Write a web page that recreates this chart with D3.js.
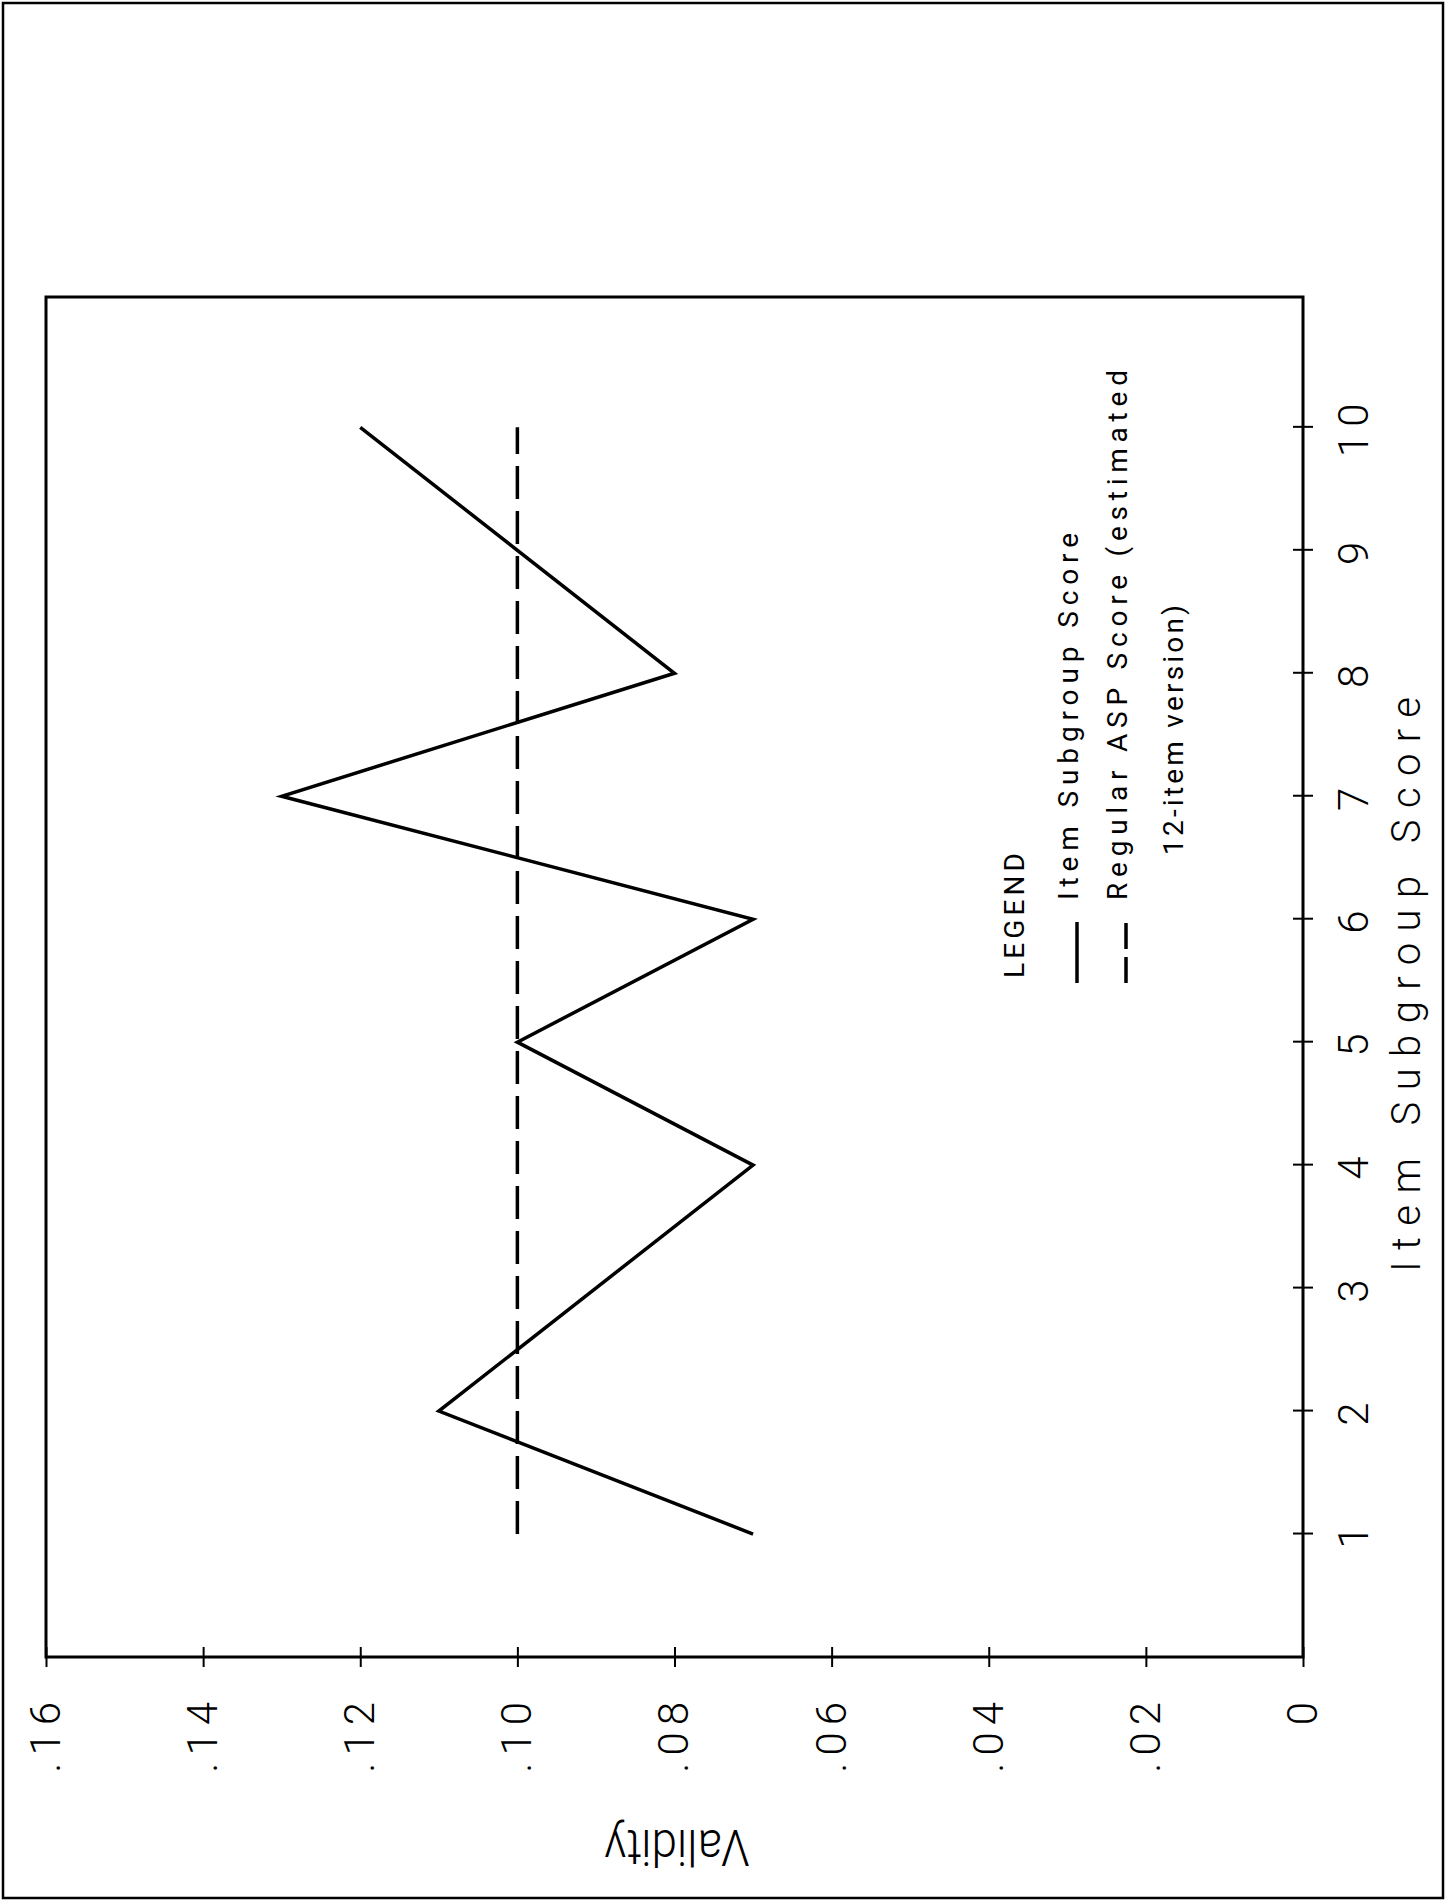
<!DOCTYPE html>
<html>
<head>
<meta charset="utf-8">
<script src="https://cdn.jsdelivr.net/npm/d3@7"></script>
<style>
  body { margin: 0; background: #fff; }
  svg { display: block; }
  text { font-family: Roboto, "DejaVu Sans", sans-serif; font-weight: 300; fill: #000; }
  .legend text { font-weight: 400; font-size: 28px; }
</style>
</head>
<body>
<div id="chart-area"></div>
<script>
// item subgroup scores (x) and validity (y)
const itemScores = [1, 2, 4, 5, 6, 7, 8, 10];
const itemValidity = [0.07, 0.11, 0.07, 0.10, 0.07, 0.13, 0.08, 0.12];

// regular ASP score, flat reference line
const aspScores = [1, 10];
const aspValidity = [0.10, 0.10];

const xTicks = [1, 2, 3, 4, 5, 6, 7, 8, 9, 10];
const xTickLabels = ['1', '2', '3', '4', '5', '6', '7', '8', '9', '10'];
const yTicks = [0, 0.02, 0.04, 0.06, 0.08, 0.10, 0.12, 0.14, 0.16];
const yTickLabels = ['0', '.02', '.04', '.06', '.08', '.10', '.12', '.14', '.16'];

const legendLabels = ['Item Subgroup Score', 'Regular ASP Score (estimated'];
const legendExtra = '12-item version)';

const pageW = 1455, pageH = 1902;
const W = 1360;   // plot length along item axis
const H = 1257;   // plot length along validity axis

let svg = d3.select('#chart-area').append('svg')
    .attr('width', pageW).attr('height', pageH);

// outer border of the page
svg.append('rect')
    .attr('x', 3).attr('y', 3)
    .attr('width', 1440).attr('height', 1895)
    .attr('fill', 'none').attr('stroke', '#000').attr('stroke-width', 2.5);

// the whole chart is drawn normally and turned a quarter turn
let g = svg.append('g').attr('transform', 'translate(46,1657) rotate(-90)');

let x = d3.scaleLinear().domain([0, 11.06]).range([0, W]);
let y = d3.scaleLinear().domain([0, 0.16]).range([H, 0]);

// frame
g.append('rect')
    .attr('x', 0).attr('y', 0).attr('width', W).attr('height', H)
    .attr('fill', 'none').attr('stroke', '#000').attr('stroke-width', 3);

let xAxis = g.append('g')
    .attr('transform', `translate(0,${H})`)
    .call(d3.axisBottom(x)
        .tickValues(xTicks)
        .tickFormat((d, i) => xTickLabels[i])
        .tickSize(10).tickPadding(25));

let yAxis = g.append('g')
    .call(d3.axisLeft(y)
        .tickValues(yTicks)
        .tickFormat((d, i) => yTickLabels[i])
        .tickSize(10).tickPadding(28));

[xAxis, yAxis].forEach((a) => {
    a.select('.domain').remove();
    a.attr('font-family', null).attr('font-size', null);
    a.selectAll('line').attr('stroke', '#000').attr('stroke-width', 2);
    a.selectAll('text')
        .style('font-size', '42px')
        .style('letter-spacing', '7px');
});
// ticks cross the frame line
xAxis.selectAll('line').attr('y1', -10);
yAxis.selectAll('line').attr('x1', 10);

// axis titles
g.append('text')
    .attr('x', 385).attr('y', 1374)
    .attr('textLength', 575).attr('lengthAdjust', 'spacing')
    .style('font-size', '40px')
    .text('Item Subgroup Score');

g.append('text')
    .attr('transform', 'translate(-173,631) rotate(-90)')
    .attr('text-anchor', 'middle')
    .attr('textLength', 145).attr('lengthAdjust', 'spacingAndGlyphs')
    .style('font-size', '50px')
    .text('Validity');

// series
let line = d3.line().x((d) => x(d[0])).y((d) => y(d[1]));

g.append('path')
    .datum(aspScores.map((s, i) => [s, aspValidity[i]]))
    .attr('d', line)
    .attr('fill', 'none').attr('stroke', '#000')
    .attr('stroke-width', 3.5).attr('stroke-dasharray', '33,12');

g.append('path')
    .datum(itemScores.map((s, i) => [s, itemValidity[i]]))
    .attr('d', line)
    .attr('fill', 'none').attr('stroke', '#000')
    .attr('stroke-width', 3.5).attr('stroke-linejoin', 'miter');

// legend
let legend = g.append('g').attr('class', 'legend');
legend.append('text')
    .attr('x', 679).attr('y', 978)
    .attr('textLength', 125).attr('lengthAdjust', 'spacing')
    .text('LEGEND');

let legendRows = [{ y: 1031, dash: null, len: 367 }, { y: 1080, dash: '26,8', len: 530 }];
legendRows.forEach((r, i) => {
    legend.append('line')
        .attr('x1', 674).attr('x2', 735)
        .attr('y1', r.y).attr('y2', r.y)
        .attr('stroke', '#000').attr('stroke-width', 3.5)
        .attr('stroke-dasharray', r.dash);
    legend.append('text')
        .attr('x', 757).attr('y', r.y + 1)
        .attr('textLength', r.len).attr('lengthAdjust', 'spacing')
        .text(legendLabels[i]);
});
legend.append('text')
    .attr('x', 802).attr('y', 1137)
    .attr('textLength', 250).attr('lengthAdjust', 'spacing')
    .text(legendExtra);
</script>
</body>
</html>
